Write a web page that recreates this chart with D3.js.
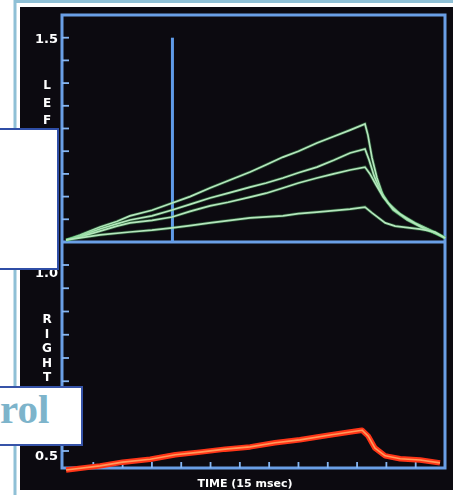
<!DOCTYPE html>
<html><head><meta charset="utf-8">
<script src="https://cdn.jsdelivr.net/npm/d3@7/dist/d3.min.js"></script>
<style>html,body{margin:0;padding:0;background:#fff;}svg{display:block;}</style>
</head><body>
<script>
// ---- data (time in 15 msec units, values in axis units) ----
const timeTicks = [1,2,3,4,5,6,7,8,9,10,11,12];
const upperTicks = [0.7,0.8,0.9,1.0,1.1,1.2,1.3,1.4,1.5];
const lowerTicks = [0.5,0.5625,0.625,0.6875,0.75,0.8125,0.875,0.9375,1.0];
const leftLabels = [{text:"1.5", panel:"upper", v:1.5},{text:"1.0", panel:"lower", v:0.98},{text:"0.5", panel:"lower", v:0.49}];
const leftName = ["L","E","F","T"];
const rightName = ["R","I","G","H","T"];
const xLabel = "TIME (15 msec)";
const boxText = "rol";

const leftCurve1 = [[0.07,0.609],[0.55,0.631],[1.23,0.666],[1.8,0.69],[2.25,0.715],[3.0,0.74],[3.69,0.772],[4.3,0.80],[4.98,0.838],[5.6,0.87],[6.35,0.908],[6.9,0.94],[7.47,0.974],[8.0,1.0],[8.63,1.036],[9.2,1.065],[9.76,1.093],[10.27,1.12],[10.37,1.071],[10.51,0.97],[10.68,0.882],[10.89,0.803],[11.23,0.741],[11.71,0.697],[12.25,0.662],[12.73,0.635],[13.0,0.618]];
const leftCurve2 = [[0.07,0.609],[0.55,0.626],[1.23,0.657],[1.8,0.68],[2.25,0.697],[3.0,0.715],[3.69,0.741],[4.3,0.766],[4.98,0.794],[5.6,0.815],[6.35,0.842],[6.9,0.86],[7.47,0.882],[8.0,0.905],[8.63,0.93],[9.2,0.96],[9.76,0.992],[10.27,1.01],[10.41,0.961],[10.58,0.891],[10.78,0.829],[11.06,0.772],[11.47,0.723],[11.98,0.684],[12.49,0.653],[13.0,0.618]];
const leftCurve3 = [[0.07,0.609],[0.55,0.622],[1.23,0.648],[1.8,0.67],[2.25,0.684],[3.0,0.695],[3.69,0.71],[4.3,0.735],[4.98,0.759],[5.6,0.775],[6.35,0.798],[6.9,0.815],[7.47,0.838],[8.0,0.86],[8.63,0.882],[9.2,0.9],[9.76,0.917],[10.27,0.93],[10.44,0.9],[10.65,0.851],[10.89,0.798],[11.23,0.745],[11.71,0.701],[12.25,0.662],[12.73,0.635],[13.0,0.618]];
const leftCurve4 = [[0.07,0.609],[0.55,0.618],[1.23,0.631],[2.25,0.644],[3.0,0.652],[3.69,0.662],[4.3,0.672],[4.98,0.684],[5.6,0.694],[6.35,0.706],[7.47,0.715],[8.0,0.725],[8.63,0.732],[9.2,0.738],[9.76,0.745],[10.27,0.754],[10.51,0.728],[10.96,0.684],[11.30,0.67],[12.15,0.657],[12.66,0.644],[13.0,0.618]];
const rightCurve = [[0.07,0.449],[1.23,0.46],[2.0,0.47],[2.94,0.478],[3.8,0.49],[4.64,0.497],[5.5,0.505],[6.35,0.511],[7.2,0.522],[8.05,0.53],[9.08,0.543],[9.76,0.551],[10.17,0.556],[10.38,0.54],[10.61,0.508],[10.96,0.487],[11.47,0.479],[12.15,0.476],[12.83,0.468]];
const markerTime = 3.7;
const markerTop = 1.5;

// ---- layout ----
const W = 453, H = 495;
const L = 62, R = 445, T = 15, MID = 242, B = 468;
const svg = d3.select("body").append("svg").attr("width", W).attr("height", H);
const defs = svg.append("defs");
const f = defs.append("filter").attr("id","glow").attr("x","-10%").attr("y","-10%").attr("width","120%").attr("height","120%");
f.append("feGaussianBlur").attr("stdDeviation",0.6);
const ft = defs.append("filter").attr("id","soft");
ft.append("feGaussianBlur").attr("stdDeviation",0.5);

const x = d3.scaleLinear().domain([0,13]).range([L+2, R]);
const yU = d3.scaleLinear().domain([0.6,1.5]).range([MID, 37.7]);
const yL = d3.scaleLinear().domain([0.5,1.0]).range([451, 265]);

// outer frame
svg.append("rect").attr("x",0).attr("y",0).attr("width",W).attr("height",H).attr("fill","#ffffff");
svg.append("rect").attr("x",15).attr("y",1.5).attr("width",W).attr("height",H).attr("fill","none").attr("stroke","#8fc0d6").attr("stroke-width",3);
svg.append("rect").attr("x",20).attr("y",7).attr("width",W-20).attr("height",483).attr("fill","#0c0a10");

const blue = "#6b9fe6";
// panels
const g = svg.append("g").attr("filter","url(#glow)");
g.append("rect").attr("x",L).attr("y",T).attr("width",R-L).attr("height",B-T).attr("fill","none").attr("stroke",blue).attr("stroke-width",3);
g.append("line").attr("x1",L).attr("x2",R).attr("y1",MID).attr("y2",MID).attr("stroke",blue).attr("stroke-width",3);

// left ticks
g.selectAll("line.tu").data(upperTicks).join("line").attr("class","tu")
  .attr("x1",L).attr("x2",L+7).attr("y1",d=>yU(d)).attr("y2",d=>yU(d)).attr("stroke","#86b6f2").attr("stroke-width",1.8);
g.selectAll("line.tl").data(lowerTicks).join("line").attr("class","tl")
  .attr("x1",L).attr("x2",L+7).attr("y1",d=>yL(d)).attr("y2",d=>yL(d)).attr("stroke","#86b6f2").attr("stroke-width",1.8);
// bottom ticks
g.selectAll("line.tb").data(timeTicks).join("line").attr("class","tb")
  .attr("x1",d=>x(d)).attr("x2",d=>x(d)).attr("y1",B).attr("y2",B-6).attr("stroke","#86b6f2").attr("stroke-width",1.8);

// marker line
g.append("line").attr("x1",x(markerTime)).attr("x2",x(markerTime)).attr("y1",yU(markerTop)).attr("y2",MID)
  .attr("stroke","#5e9ae8").attr("stroke-width",3);

// green curves
const lineU = d3.line().x(d=>x(d[0])).y(d=>yU(d[1])).curve(d3.curveStepAfter);
const lineUs = d3.line().x(d=>x(d[0])).y(d=>yU(d[1]));
[leftCurve1,leftCurve2,leftCurve3,leftCurve4].forEach((c,i)=>{
  g.append("path").attr("d",lineUs(c)).attr("fill","none").attr("stroke","#4fc86a").attr("stroke-width",3.2).attr("stroke-opacity",0.35);
  g.append("path").attr("d",lineUs(c)).attr("fill","none").attr("stroke","#b4e6bc").attr("stroke-width",1.7);
});

// red curve
const lineL = d3.line().x(d=>x(d[0])).y(d=>yL(d[1]));
g.append("path").attr("d",lineL(rightCurve)).attr("fill","none").attr("stroke","#ff3418").attr("stroke-width",5.5).attr("stroke-linejoin","round");
g.append("path").attr("d",lineL(rightCurve)).attr("fill","none").attr("stroke","#ff9a5a").attr("stroke-width",1.6).attr("stroke-linejoin","round");

// texts
const tg = svg.append("g").attr("filter","url(#soft)").attr("fill","#ffffff").attr("font-family","DejaVu Sans").attr("font-weight","bold");
tg.selectAll("text.yl").data(leftLabels).join("text").attr("class","yl")
  .attr("x",58).attr("y",d=>(d.panel==="upper"?yU(d.v):yL(d.v))+5).attr("text-anchor","end").attr("font-size",13).text(d=>d.text);
tg.selectAll("text.ln").data(leftName).join("text").attr("class","ln")
  .attr("x",47).attr("y",(d,i)=>89+i*17.5).attr("text-anchor","middle").attr("font-size",12).text(d=>d);
tg.selectAll("text.rn").data(rightName).join("text").attr("class","rn")
  .attr("x",47).attr("y",(d,i)=>323+i*14.5).attr("text-anchor","middle").attr("font-size",12).text(d=>d);
tg.append("text").attr("x",245).attr("y",487).attr("text-anchor","middle").attr("font-size",11).text(xLabel);

// overlay boxes
svg.append("rect").attr("x",-2).attr("y",129).attr("width",60).attr("height",140).attr("fill","#ffffff").attr("stroke","#2f4ea6").attr("stroke-width",2);
svg.append("rect").attr("x",-2).attr("y",387).attr("width",84).attr("height",58).attr("fill","#ffffff").attr("stroke","#3653a8").attr("stroke-width",2);
svg.append("text").attr("x",0).attr("y",423).attr("font-family","Liberation Serif").attr("font-weight","bold").attr("font-size",41).attr("fill","#7db4cb").text(boxText);
</script>
</body></html>
